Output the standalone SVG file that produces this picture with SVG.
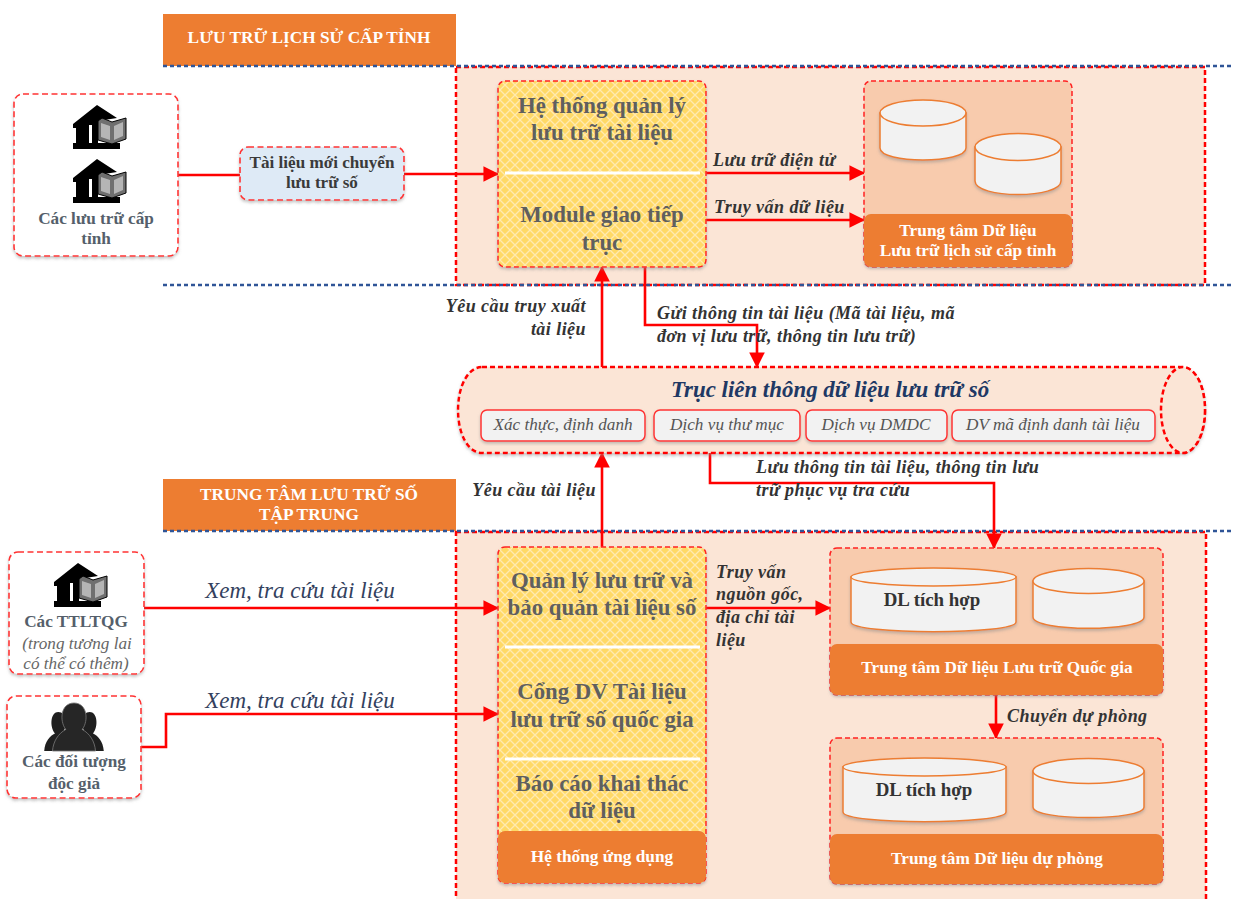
<svg xmlns="http://www.w3.org/2000/svg" width="1233" height="899" viewBox="0 0 1233 899">
<style>
text{font-family:"Liberation Serif","Times New Roman",serif;text-anchor:middle}
.hd{fill:#ed7d31}
.w{fill:#fff;font-weight:bold;font-size:17.3px}
.h{fill:#fff;font-weight:bold;font-size:17.3px}
.y{fill:#5f5f5f;font-weight:bold;font-size:22.8px}
.g{fill:#555f6b;font-weight:bold;font-size:17.2px}
.gd{fill:#3a3a3a;font-weight:bold;font-size:17.1px}
.i{fill:#666;font-style:italic;font-size:17.2px}
.l{fill:#333;font-weight:bold;font-style:italic;font-size:18px;letter-spacing:.45px;text-anchor:start}
.e{fill:#33415e;font-style:italic;font-size:23px}
.p{fill:#555;font-style:italic;font-size:17.2px}
.dl{fill:#333;font-weight:bold;font-size:18.9px}
.panel{fill:#fbe5d6;stroke:#f00;stroke-width:2.5;stroke-dasharray:5 3}
.box{fill:#fff;stroke:#f33;stroke-width:1.6;stroke-dasharray:6 3.5}
.yb{fill:url(#lat);stroke:#f22;stroke-width:1.5;stroke-dasharray:5 3}
.dc{fill:#f8cbad;stroke:#f22;stroke-width:1.5;stroke-dasharray:5 3}
.or{fill:#ed7d31}
.cyl{fill:#f2f2f2;stroke:#ed7d31;stroke-width:1.5}
.sep{stroke:#fff;stroke-width:3;fill:none}
.div{stroke:#2f5597;stroke-width:2.4;stroke-dasharray:4 3;fill:none}
.c{fill:none;stroke:#f00;stroke-width:2.6}
.pill{fill:#f2f2f2;stroke:#f33;stroke-width:1.5}
</style>
<defs>
<pattern id="lat" width="10" height="10" patternUnits="userSpaceOnUse">
<rect width="10" height="10" fill="#ffd966"/>
<path d="M0 0L10 10M10 0L0 10" stroke="#ffeab0" stroke-width="1.3"/>
</pattern>
<marker id="a" markerWidth="6" markerHeight="6" refX="5.6" refY="3" orient="auto" markerUnits="strokeWidth"><path d="M0 0L6 3L0 6z" fill="#f00"/></marker>
<filter id="s" x="-10%" y="-10%" width="120%" height="125%"><feDropShadow dx="0" dy="2" stdDeviation="1.5" flood-color="#8a8a8a" flood-opacity=".5"/></filter>
<symbol id="arch" viewBox="0 0 54 44" overflow="visible">
<path d="M25 0L45 13L26 16V38H48V44H1V38H4V23H1V19ZM17 20V38H20V20Z" fill="#000" fill-rule="evenodd"/>
<path d="M26 16L30 13L40 17L54 13V34L40 39L26 35Z" fill="#6f6f6f" stroke="#000" stroke-width="1"/>
<path d="M29 18L38 21V35L29 32ZM42 21L51 17V31L42 35Z" fill="#b5b5b5"/>
</symbol>
<symbol id="ppl" viewBox="0 0 72 58" overflow="visible">
<path d="M17 11C27 11 29 26 24 33L32 38L20 58H0C1 46 7 40 13 37C6 28 8 11 17 11ZM55 11C45 11 43 26 48 33L40 38L52 58H72C71 46 65 40 59 37C66 28 64 11 55 11Z" fill="#1f1f1f"/>
<path d="M36 0C52 0 54 21 46 32C55 37 61 46 62 58H10C11 46 17 37 26 32C18 21 20 0 36 0Z" fill="#262626" stroke="#777" stroke-width="1"/>
</symbol>
</defs>

<g id="section-top">
<rect class="panel" x="456" y="67" width="749" height="218"/>
<rect class="hd" x="163" y="14" width="293" height="52"/>
<text class="h" x="309" y="43">LƯU TRỮ LỊCH SỬ CẤP TỈNH</text>
<path class="div" d="M163 66H1233M163 285H1233"/>
</g>
<g id="section-bottom">
<rect class="panel" x="456" y="532" width="750" height="372"/>
<rect class="hd" x="163" y="479" width="293" height="52"/>
<text class="h" x="309" y="500">TRUNG TÂM LƯU TRỮ SỐ</text>
<text class="h" x="309" y="520">TẬP TRUNG</text>
<path class="div" d="M163 531H1233"/>
</g>

<g id="connectors">
<path class="c" d="M178 175H240"/>
<path class="c" marker-end="url(#a)" d="M404 174H498"/>
<path class="c" marker-end="url(#a)" d="M706 173H864"/>
<path class="c" marker-end="url(#a)" d="M706 220H864"/>
<path class="c" marker-end="url(#a)" d="M602 367V267"/>
<path class="c" marker-end="url(#a)" d="M645 267V325H757V367"/>
<path class="c" marker-end="url(#a)" d="M602 547V453"/>
<path class="c" marker-end="url(#a)" d="M710 453V483H994V548"/>
<path class="c" marker-end="url(#a)" d="M144 608H498"/>
<path class="c" marker-end="url(#a)" d="M141 747H166V714H498"/>
<path class="c" marker-end="url(#a)" d="M706 608H830"/>
<path class="c" marker-end="url(#a)" d="M996 695V738"/>
</g>

<g id="n-luu-tru-cap-tinh">
<rect class="box" x="14" y="94" width="164" height="162" rx="9" filter="url(#s)"/>
<use href="#arch" x="72" y="105" width="54" height="44"/>
<use href="#arch" x="72" y="159" width="54" height="44"/>
<text class="g" x="96" y="224">Các lưu trữ cấp</text>
<text class="g" x="96" y="244">tỉnh</text>
</g>
<g id="n-tai-lieu-moi">
<rect x="240" y="147" width="164" height="53" rx="8" fill="#deeaf6" stroke="#f33" stroke-width="1.6" stroke-dasharray="6 3.500" filter="url(#s)"/>
<text class="gd" x="322" y="168">Tài liệu mới chuyển</text>
<text class="gd" x="322" y="188">lưu trữ số</text>
</g>
<g id="n-he-thong-quan-ly">
<rect class="yb" x="498" y="81" width="208" height="186" rx="7" filter="url(#s)"/>
<path class="sep" d="M505 173H700"/>
<text class="y" x="602" y="113">Hệ thống quản lý</text>
<text class="y" x="602" y="140">lưu trữ tài liệu</text>
<text class="y" x="602" y="222">Module giao tiếp</text>
<text class="y" x="602" y="250">trục</text>
</g>
<g id="n-tt-du-lieu-tinh">
<rect class="dc" x="864" y="81" width="208" height="186" rx="7"/>
<path class="or" d="M864 221a7 7 0 0 1 7-7H1065a7 7 0 0 1 7 7V260a7 7 0 0 1-7 7H871a7 7 0 0 1-7-7Z" filter="url(#s)"/>
<g filter="url(#s)"><path class="cyl" d="M880 113V148C880 164 966 164 966 148V113Z"/><ellipse class="cyl" cx="923" cy="113" rx="43" ry="13"/></g>
<g filter="url(#s)"><path class="cyl" d="M975 147V181C975 199 1061 199 1061 181V147Z"/><ellipse class="cyl" cx="1018" cy="147" rx="43" ry="13.500"/></g>
<text class="w" x="968" y="236">Trung tâm Dữ liệu</text>
<text class="w" x="968" y="256">Lưu trữ lịch sử cấp tỉnh</text>
</g>
<g id="n-truc-lien-thong">
<path d="M482 367H1180C1196 367 1205 386 1205 410C1205 434 1196 453 1180 453H482C468 453 458 434 458 410C458 386 468 367 482 367Z" fill="#fbe5d6" stroke="#f00" stroke-width="2.5" stroke-dasharray="5 3" filter="url(#s)"/>
<ellipse cx="1183" cy="410" rx="22" ry="43" fill="#fbe5d6" stroke="#f00" stroke-width="2.5" stroke-dasharray="5 3"/>
<text x="830" y="397" font-size="22.9" font-weight="bold" font-style="italic" fill="#203864">Trục liên thông dữ liệu lưu trữ số</text>
<g filter="url(#s)">
<rect class="pill" x="481" y="410" width="164" height="31" rx="6"/>
<rect class="pill" x="654" y="410" width="146" height="31" rx="6"/>
<rect class="pill" x="806" y="410" width="141" height="31" rx="6"/>
<rect class="pill" x="952" y="410" width="203" height="31" rx="6"/>
</g>
<text class="p" x="563" y="430">Xác thực, định danh</text>
<text class="p" x="727" y="430">Dịch vụ thư mục</text>
<text class="p" x="876" y="430">Dịch vụ DMDC</text>
<text class="p" x="1053" y="430">DV mã định danh tài liệu</text>
</g>
<g id="n-ttltqg">
<rect class="box" x="9" y="552" width="135" height="122" rx="9" filter="url(#s)"/>
<use href="#arch" x="53" y="563" width="54" height="44"/>
<text class="g" x="76" y="627">Các TTLTQG</text>
<text class="i" x="77" y="649">(trong tương lai</text>
<text class="i" x="76" y="669">có thể có thêm)</text>
</g>
<g id="n-doc-gia">
<rect class="box" x="7" y="696" width="134" height="102" rx="9" filter="url(#s)"/>
<use href="#ppl" x="43" y="703" width="62" height="48"/>
<text class="g" x="74" y="767">Các đối tượng</text>
<text class="g" x="74" y="789">độc giả</text>
</g>
<g id="n-he-thong-ung-dung">
<rect class="yb" x="498" y="547" width="208" height="336" rx="7" filter="url(#s)"/>
<path class="sep" d="M505 647H700M505 759H700"/>
<path class="or" d="M498 838a7 7 0 0 1 7-7H699a7 7 0 0 1 7 7V876a7 7 0 0 1-7 7H505a7 7 0 0 1-7-7Z"/>
<text class="y" x="602" y="588">Quản lý lưu trữ và</text>
<text class="y" x="602" y="615">bảo quản tài liệu số</text>
<text class="y" x="602" y="699">Cổng DV Tài liệu</text>
<text class="y" x="602" y="727">lưu trữ số quốc gia</text>
<text class="y" x="602" y="791">Báo cáo khai thác</text>
<text class="y" x="602" y="818">dữ liệu</text>
<text class="h" x="602" y="862">Hệ thống ứng dụng</text>
</g>
<g id="n-tt-quoc-gia">
<rect class="dc" x="830" y="548" width="333" height="147" rx="7"/>
<path class="or" d="M830 651a7 7 0 0 1 7-7H1156a7 7 0 0 1 7 7V688a7 7 0 0 1-7 7H837a7 7 0 0 1-7-7Z" filter="url(#s)"/>
<g filter="url(#s)"><path class="cyl" d="M851 577V622C851 635 1016 635 1016 622V577Z"/><ellipse class="cyl" cx="933.500" cy="577" rx="82.500" ry="9"/></g>
<g filter="url(#s)"><path class="cyl" d="M1033 581V617C1033 632 1144 632 1144 617V581Z"/><ellipse class="cyl" cx="1088.500" cy="581" rx="55.500" ry="12.500"/></g>
<text class="dl" x="932" y="606">DL tích hợp</text>
<text class="w" x="997" y="673">Trung tâm Dữ liệu Lưu trữ Quốc gia</text>
</g>
<g id="n-tt-du-phong">
<rect class="dc" x="830" y="738" width="333" height="146" rx="7"/>
<path class="or" d="M830 841a7 7 0 0 1 7-7H1156a7 7 0 0 1 7 7V877a7 7 0 0 1-7 7H837a7 7 0 0 1-7-7Z" filter="url(#s)"/>
<g filter="url(#s)"><path class="cyl" d="M843 767V812C843 825 1006 825 1006 812V767Z"/><ellipse class="cyl" cx="924.500" cy="767" rx="81.500" ry="9"/></g>
<g filter="url(#s)"><path class="cyl" d="M1033 771V807C1033 821 1144 821 1144 807V771Z"/><ellipse class="cyl" cx="1088.500" cy="771" rx="55.500" ry="12.500"/></g>
<text class="dl" x="924" y="796">DL tích hợp</text>
<text class="w" x="997" y="864">Trung tâm Dữ liệu dự phòng</text>
</g>

<g id="labels">
<text class="l" x="713" y="166">Lưu trữ điện tử</text>
<text class="l" x="714" y="213">Truy vấn dữ liệu</text>
<text class="l" x="657" y="319">Gửi thông tin tài liệu (Mã tài liệu, mã</text>
<text class="l" x="657" y="342">đơn vị lưu trữ, thông tin lưu trữ)</text>
<text class="l" x="586" y="312" style="text-anchor:end">Yêu cầu truy xuất</text>
<text class="l" x="586" y="335" style="text-anchor:end">tài liệu</text>
<text class="l" x="756" y="473">Lưu thông tin tài liệu, thông tin lưu</text>
<text class="l" x="756" y="496">trữ phục vụ tra cứu</text>
<text class="l" x="596" y="496" style="text-anchor:end">Yêu cầu tài liệu</text>
<text class="e" x="300" y="598">Xem, tra cứu tài liệu</text>
<text class="e" x="300" y="708">Xem, tra cứu tài liệu</text>
<text class="l" x="716" y="578">Truy vấn</text>
<text class="l" x="716" y="600">nguồn gốc,</text>
<text class="l" x="716" y="623">địa chỉ tài</text>
<text class="l" x="716" y="646">liệu</text>
<text class="l" x="1007" y="722">Chuyển dự phòng</text>
</g>
</svg>
